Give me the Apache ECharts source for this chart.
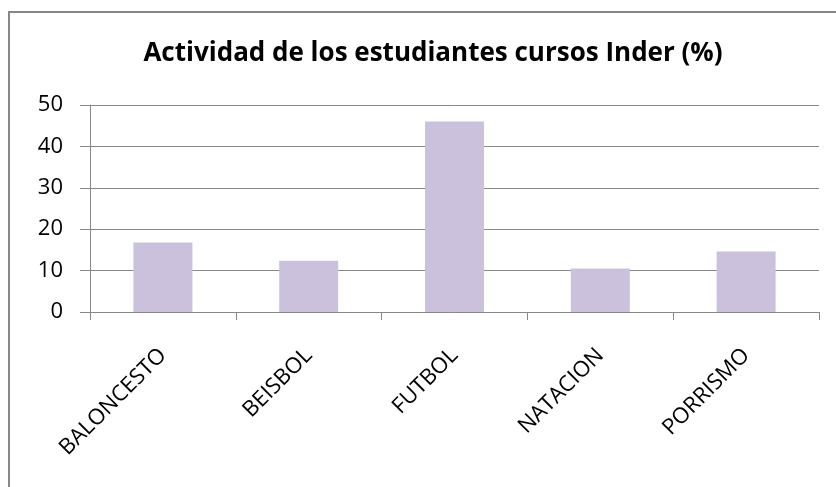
<!DOCTYPE html>
<html>
<head>
<meta charset="utf-8">
<script src="https://cdn.jsdelivr.net/npm/echarts@6/dist/echarts.min.js"></script>
<style>
  html, body { margin: 0; padding: 0; background: #fff; }
  #chart { width: 836px; height: 487px; }
</style>
</head>
<body>
<div id="chart"></div>
<script>
// datos
const categorias = ['BALONCESTO', 'BEISBOL', 'FUTBOL', 'NATACION', 'PORRISMO'];
const porcentajes = [16.8, 12.4, 46.0, 10.5, 14.6];
const ticksY = [0, 10, 20, 30, 40, 50];

const chart = echarts.init(document.getElementById('chart'));

const fuente = "'Open Sans', sans-serif";

let opciones = {
  animation: false,
  backgroundColor: '#fff',
  title: {
    text: 'Actividad de los estudiantes cursos Inder (%)',
    left: 428,
    top: 36,
    textAlign: 'center',
    textStyle: {
      fontFamily: fuente,
      fontWeight: 'bold',
      fontSize: 26,
      color: '#000'
    }
  },
  graphic: [{
    type: 'rect',
    shape: { x: 9, y: 12, width: 900, height: 600 },
    style: { fill: 'none', stroke: '#888', lineWidth: 2 },
    silent: true
  }],
  grid: {
    left: 90,
    right: 17,
    top: 105,
    bottom: 175
  },
  xAxis: {
    type: 'category',
    data: categorias,
    axisLine: { lineStyle: { color: '#888', width: 1 } },
    axisTick: { show: true, length: 8, lineStyle: { color: '#888' } },
    axisLabel: {
      rotate: 45,
      margin: 40,
      fontFamily: fuente,
      fontSize: 22,
      color: '#000'
    }
  },
  yAxis: {
    type: 'value',
    min: ticksY[0],
    max: ticksY[ticksY.length - 1],
    interval: 10,
    axisLine: { show: true, lineStyle: { color: '#888', width: 1 } },
    axisTick: { show: true, length: 10, lineStyle: { color: '#888' } },
    axisLabel: {
      margin: 27,
      fontFamily: fuente,
      fontSize: 22,
      color: '#000'
    },
    splitLine: { show: true, lineStyle: { color: '#888', width: 1 } }
  },
  series: [{
    type: 'bar',
    data: porcentajes,
    barWidth: 59,
    itemStyle: { color: '#cbc1dc' }
  }]
};

chart.setOption(opciones);
</script>
</body>
</html>
